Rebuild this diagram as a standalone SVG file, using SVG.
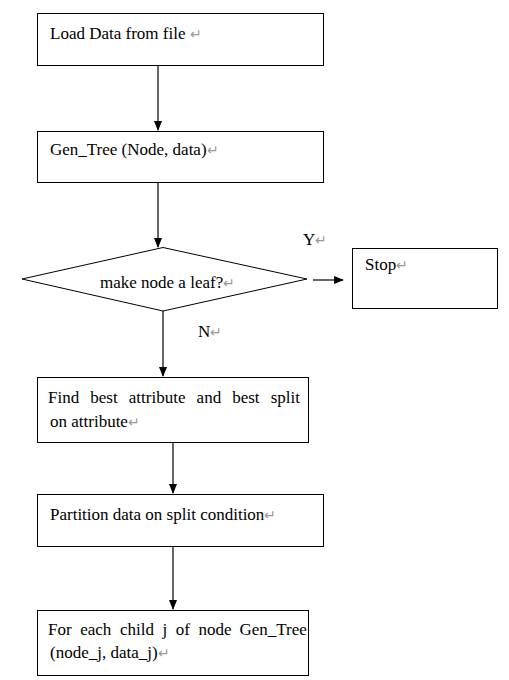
<svg xmlns="http://www.w3.org/2000/svg" width="509" height="680" viewBox="0 0 509 680">
<style>
.box{fill:#fff;stroke:#000;stroke-width:1}
.t{font-family:"Liberation Serif","Times New Roman",serif;font-size:17px;fill:#000}
.r{fill:#999;font-size:14px}
.c{stroke:#000;stroke-width:1.2;fill:none}
</style>
<defs>
<marker id="ah" markerWidth="10" markerHeight="10" refX="9" refY="5" orient="auto" markerUnits="userSpaceOnUse">
<path d="M0,1 L10,5 L0,9 Z" fill="#000"/>
</marker>
</defs>
<rect width="509" height="680" fill="#fff"/>
<g id="connectors">
<line class="c" x1="158" y1="65" x2="158" y2="130" marker-end="url(#ah)"/>
<line class="c" x1="158" y1="182" x2="158" y2="247" marker-end="url(#ah)"/>
<line class="c" x1="313" y1="280" x2="343" y2="280" marker-end="url(#ah)"/>
<line class="c" x1="163" y1="311" x2="163" y2="376" marker-end="url(#ah)"/>
<line class="c" x1="173" y1="429" x2="173" y2="493" marker-end="url(#ah)"/>
<line class="c" x1="173" y1="546" x2="173" y2="609" marker-end="url(#ah)"/>
<text class="t" x="303" y="245">Y<tspan class="r">↵</tspan></text>
<text class="t" x="198" y="337">N<tspan class="r">↵</tspan></text>
</g>
<g id="load">
<rect class="box" x="37.5" y="13.5" width="286" height="52"/>
<text class="t" x="50" y="39">Load Data from file <tspan class="r">↵</tspan></text>
</g>
<g id="gentree">
<rect class="box" x="37.5" y="131.5" width="286" height="51"/>
<text class="t" x="50" y="155">Gen_Tree (Node, data)<tspan class="r">↵</tspan></text>
</g>
<g id="decision">
<polygon class="box" points="163,247.5 307,279 163,311 22,279"/>
<text class="t" x="100" y="288">make node a leaf?<tspan class="r">↵</tspan></text>
</g>
<g id="stop">
<rect class="box" x="352.5" y="248.5" width="145" height="60"/>
<text class="t" x="365" y="270">Stop<tspan class="r">↵</tspan></text>
</g>
<g id="findbest">
<rect class="box" x="37.5" y="377.5" width="271" height="65"/>
<text class="t" y="403"><tspan x="48">Find</tspan><tspan x="90.3">best</tspan><tspan x="128.8">attribute</tspan><tspan x="196.6">and</tspan><tspan x="232.2">best</tspan><tspan x="270.7">split</tspan></text>
<text class="t" x="50" y="427">on attribute<tspan class="r">↵</tspan></text>
</g>
<g id="partition">
<rect class="box" x="37.5" y="494.5" width="286" height="52"/>
<text class="t" x="50" y="520">Partition data on split condition<tspan class="r">↵</tspan></text>
</g>
<g id="foreach">
<rect class="box" x="37.5" y="610.5" width="271" height="65"/>
<text class="t" y="635"><tspan x="48">For</tspan><tspan x="80.2">each</tspan><tspan x="119.9">child</tspan><tspan x="162.4">j</tspan><tspan x="175.7">of</tspan><tspan x="198.5">node</tspan><tspan x="239.5">Gen_Tree</tspan></text>
<text class="t" x="50" y="658">(node_j, data_j)<tspan class="r">↵</tspan></text>
</g>
</svg>
